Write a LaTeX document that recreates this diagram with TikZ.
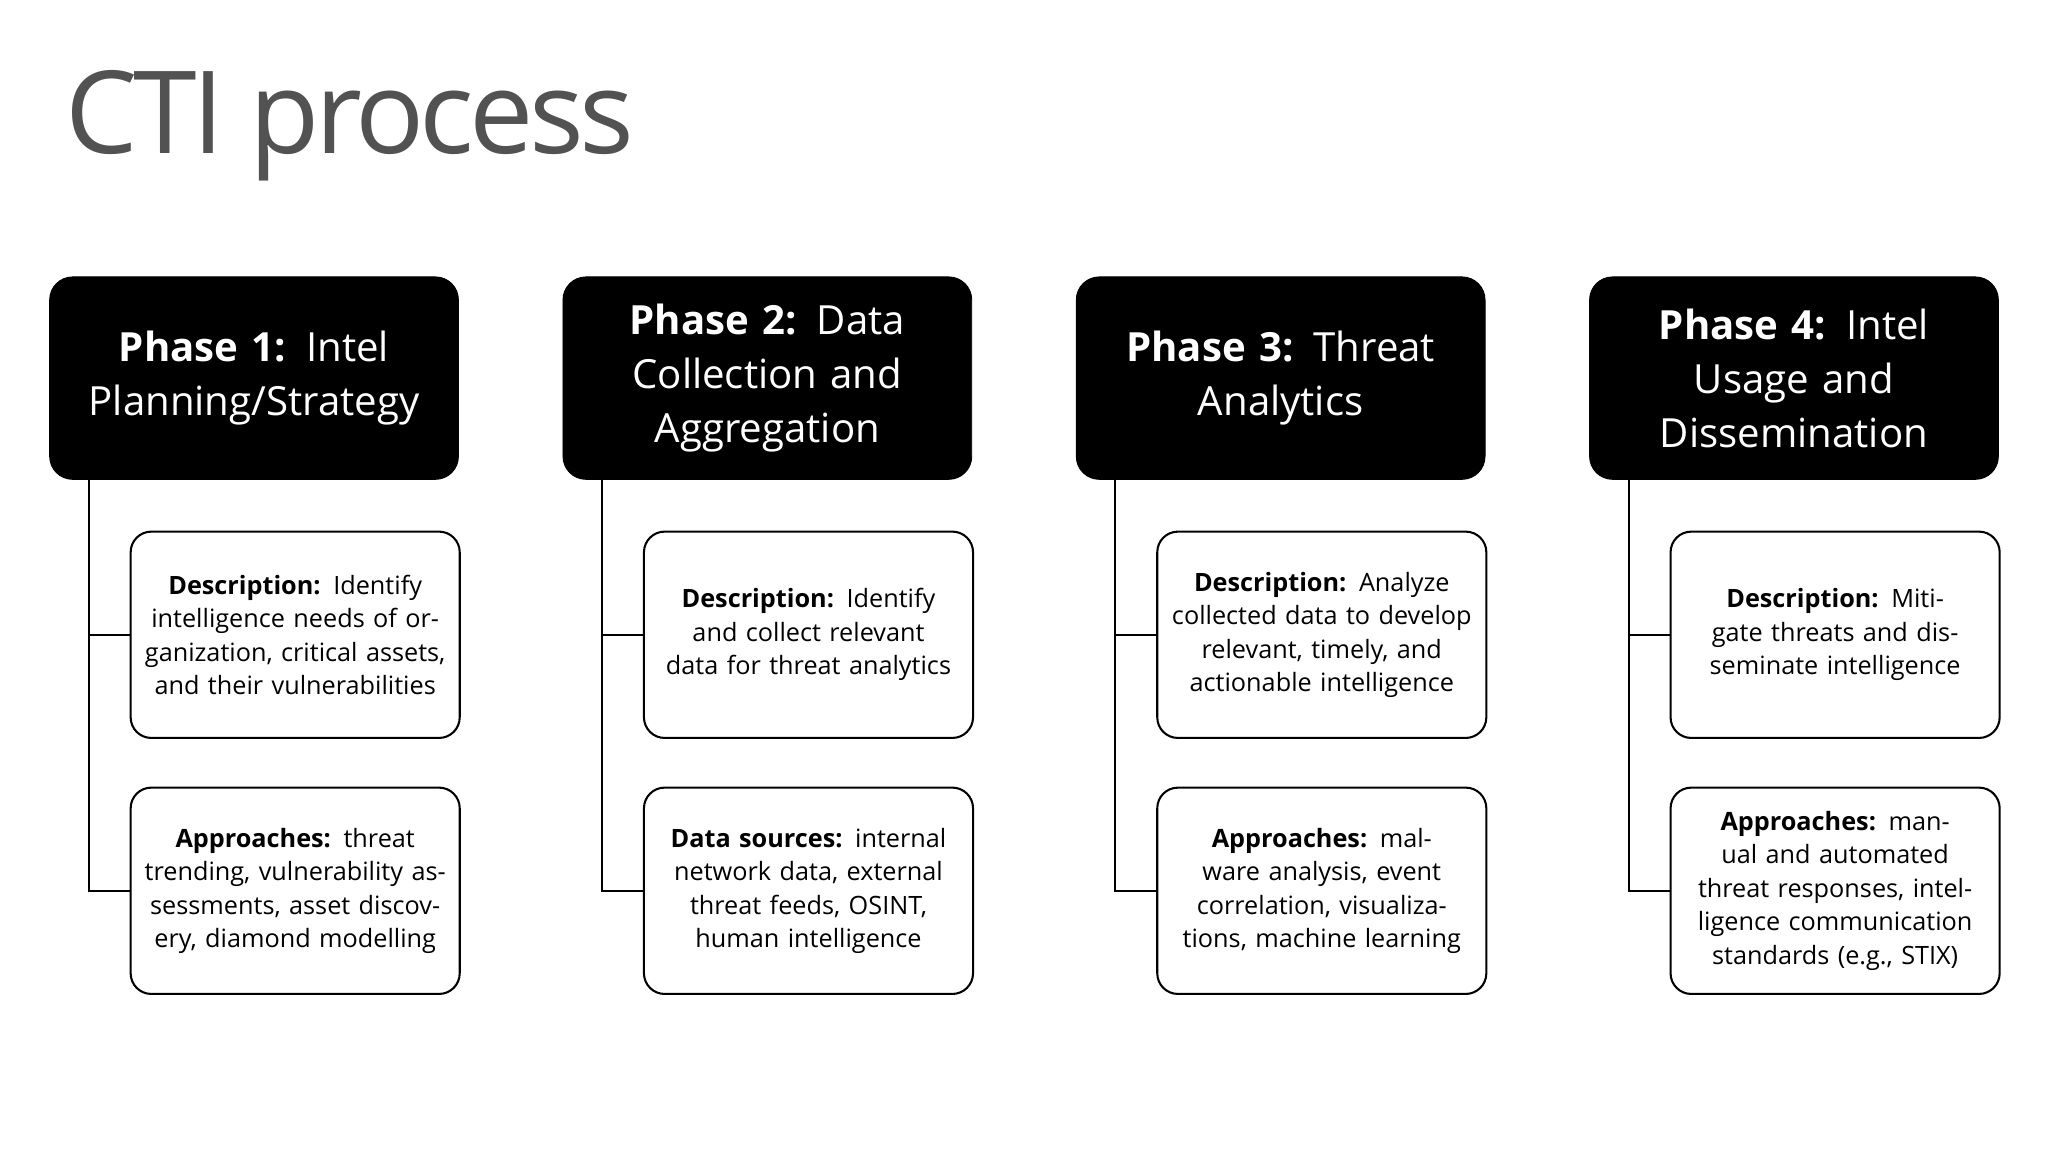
\documentclass[tikz,border=0pt]{standalone}
\usepackage{fontspec}
\setmainfont{Open Sans}
\begin{document}
\begin{tikzpicture}[x=0.02cm,y=-0.02cm,
  head/.style={draw=black,fill=black,rounded corners=10pt,minimum width=6.26cm,minimum height=3.1cm,text=white,align=center,text width=6cm,font=\fontsize{17.5}{23.5}\selectfont,inner sep=0pt},
  sub/.style={draw=black,line width=0.9pt,rounded corners=9pt,minimum width=5.04cm,minimum height=3.16cm,align=center,text width=4.8cm,font=\fontsize{11}{14.6}\selectfont,inner sep=0pt},
  conn/.style={line width=0.9pt}]
\useasboundingbox (0,0) rectangle (1568,882);
\node[anchor=west,text=black!68,font=\fontsize{50}{56}\selectfont\addfontfeature{LetterSpace=-4}] (title) at (44,96) {CTI process};
\foreach \i/\h/\d/\a in {
 1/{\textbf{Phase 1:} Intel\\Planning/Strategy}/{\textbf{Description:} Identify intelligence needs of organization, critical assets, and their vulnerabilities}/{\textbf{Approaches:} threat trending, vulnerability assessments, asset discovery, diamond modelling},
 2/{\textbf{Phase 2:} Data\\Collection and\\Aggregation}/{\textbf{Description:} Identify and collect relevant data for threat analytics}/{\textbf{Data sources:} internal network data, external threat feeds, OSINT, human intelligence},
 3/{\textbf{Phase 3:} Threat\\Analytics}/{\textbf{Description:} Analyze collected data to develop relevant, timely, and actionable intelligence}/{\textbf{Approaches:} malware analysis, event correlation, visualizations, machine learning},
 4/{\textbf{Phase 4:} Intel\\Usage and\\Dissemination}/{\textbf{Description:} Mitigate threats and disseminate intelligence}/{\textbf{Approaches:} manual and automated threat responses, intelligence communication standards (e.g., STIX)}}{
 \pgfmathsetmacro{\xo}{38+393*(\i-1)}
 \node[head] (h\i) at (\xo+156.5,289.5) {\h};
 \node[sub] (d\i) at (\xo+188,486) {\d};
 \node[sub] (a\i) at (\xo+188,682) {\a};
 \coordinate (t\i) at (\xo+30,367);
 \draw[conn] (t\i) |- (a\i.west);
 \draw[conn] (t\i |- d\i.west) -- (d\i.west);
}
\end{tikzpicture}
\end{document}
